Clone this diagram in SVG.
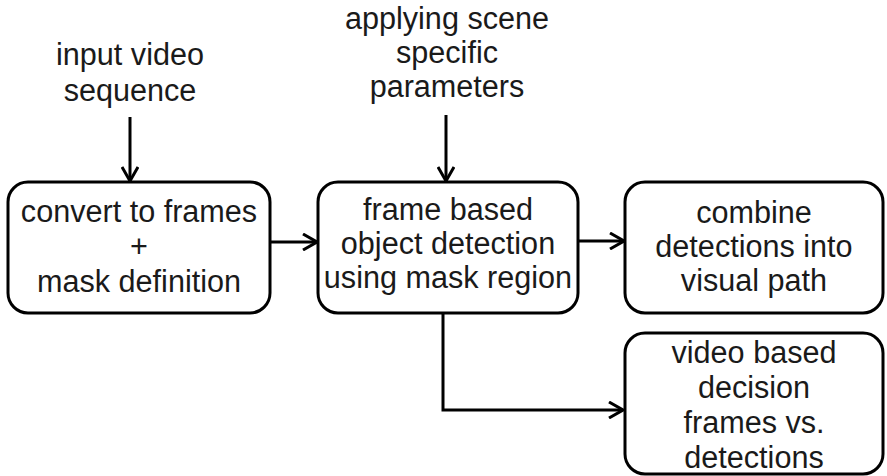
<svg xmlns="http://www.w3.org/2000/svg" width="887" height="476" viewBox="0 0 887 476">
<defs>
<marker id="arr" viewBox="0 0 16 18" refX="15" refY="9" markerWidth="16" markerHeight="18" markerUnits="userSpaceOnUse" orient="auto">
<path d="M1,1 L15,9 L1,17" fill="none" stroke="#000" stroke-width="3"/>
</marker>
<style>
.box{fill:#fff;stroke:#000;stroke-width:3}
.t{font-family:"Liberation Sans",Arial,sans-serif;font-size:30.6px;fill:#1a1a1a;text-anchor:middle}
.c{fill:none;stroke:#000;stroke-width:3}
</style>
</defs>
<rect width="887" height="476" fill="#fff"/>
<g id="label-input">
<text class="t" x="130" y="65">input video</text>
<text class="t" x="130" y="101">sequence</text>
</g>
<g id="label-params">
<text class="t" x="447" y="29">applying scene</text>
<text class="t" x="447" y="63">specific</text>
<text class="t" x="447" y="97">parameters</text>
</g>
<g id="connectors">
<line class="c" x1="130" y1="117" x2="130" y2="181" marker-end="url(#arr)"/>
<line class="c" x1="446" y1="115" x2="446" y2="181" marker-end="url(#arr)"/>
<line class="c" x1="270" y1="242" x2="317" y2="242" marker-end="url(#arr)"/>
<line class="c" x1="578" y1="241" x2="624" y2="241" marker-end="url(#arr)"/>
<polyline class="c" points="443,313 443,410 623,410" marker-end="url(#arr)"/>
</g>
<g id="node-convert">
<rect class="box" x="8" y="182" width="262" height="131" rx="20"/>
<text class="t" x="139" y="222">convert to frames</text>
<text class="t" x="139" y="257">+</text>
<text class="t" x="139" y="292">mask definition</text>
</g>
<g id="node-detect">
<rect class="box" x="318" y="182" width="260" height="131" rx="20"/>
<text class="t" x="448" y="220">frame based</text>
<text class="t" x="448" y="254">object detection</text>
<text class="t" x="448" y="288">using mask region</text>
</g>
<g id="node-combine">
<rect class="box" x="625" y="182" width="258" height="131" rx="20"/>
<text class="t" x="754" y="223">combine</text>
<text class="t" x="754" y="257">detections into</text>
<text class="t" x="754" y="291">visual path</text>
</g>
<g id="node-decision">
<rect class="box" x="625" y="333" width="258" height="141" rx="20"/>
<text class="t" x="754" y="363">video based</text>
<text class="t" x="754" y="398">decision</text>
<text class="t" x="754" y="433">frames vs.</text>
<text class="t" x="754" y="468">detections</text>
</g>
</svg>
